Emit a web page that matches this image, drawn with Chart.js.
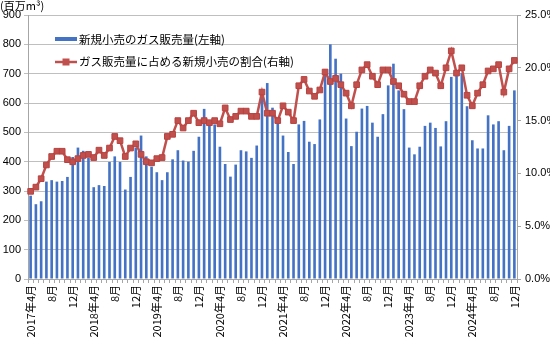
<!DOCTYPE html>
<html><head><meta charset="utf-8">
<script src="https://cdn.jsdelivr.net/npm/chart.js@4.4.1/dist/chart.umd.min.js"></script>
<style>html,body{margin:0;padding:0;background:#fff;}canvas{display:block;}</style>
</head><body>
<canvas id="c" width="550" height="337"></canvas>
<script>
// ---- data ----
const startYear = 2017, startMonth = 4, monthCount = 93;
const categories = [];
for (let i = 0; i < monthCount; i++) {
  const m = (startMonth - 1 + i) % 12 + 1;
  const y = startYear + Math.floor((startMonth - 1 + i) / 12);
  categories.push(m === 4 ? y + '年' + m + '月' : m + '月');
}
const volumeLabel = '新規小売のガス販売量(左軸)';
const shareLabel = 'ガス販売量に占める新規小売の割合(右軸)';
const unitLabel = '(百万m³)';
const volume = [284,255,265,332,337,332,334,348,416,448,437,413,
  313,320,317,399,418,399,305,348,448,489,418,383,
  364,337,364,408,439,404,400,437,485,580,532,527,
  451,392,349,390,439,435,413,455,620,668,584,535,
  489,433,392,527,539,468,460,544,700,800,751,700,
  547,453,502,581,590,533,485,562,660,734,643,579,
  448,425,451,522,533,515,452,538,689,713,702,589,
  473,445,445,558,527,538,439,522,643];
const share = [8.3,8.7,9.5,10.8,11.6,12.1,12.1,11.3,11.1,11.4,11.7,11.8,
  11.5,12.2,11.7,12.4,13.5,13.1,11.6,12.4,12.8,11.8,11.1,11.0,
  11.4,11.5,13.5,13.7,15.0,14.3,15.0,15.7,14.8,15.0,14.8,15.0,
  14.7,16.2,15.1,15.4,15.9,15.9,15.4,15.4,17.7,15.7,15.7,15.0,
  16.4,15.8,15.0,18.3,18.9,17.8,17.3,17.9,19.6,18.7,19.0,18.4,
  17.6,16.4,18.4,19.8,20.3,19.2,18.4,19.8,19.8,18.7,18.3,17.5,
  16.8,16.8,18.3,19.2,19.8,19.5,18.3,20.0,21.6,19.5,20.0,17.4,
  16.4,17.6,18.4,19.7,19.9,20.3,17.7,19.9,20.7];
const leftTicks = {min: 0, max: 900, step: 100};
const rightTicks = {min: 0, max: 25, step: 5};

const BLUE = '#4472C4', RED = '#C0504D', GRID = '#BFBFBF', AXIS = '#A6A6A6';
const JP = '"Noto Sans CJK JP", sans-serif';
const NUM = '"Liberation Sans", Arial, sans-serif';

const overlay = {
  id: 'overlay',
  afterDraw(chart) {
    const ctx = chart.ctx;
    ctx.save();
    ctx.fillStyle = '#000';
    ctx.textBaseline = 'middle';
    ctx.font = '11px ' + JP;
    ctx.fillText(unitLabel, 0, 6);
    // legend
    ctx.fillStyle = BLUE;
    ctx.fillRect(55, 37, 22, 4);
    ctx.fillStyle = '#000';
    ctx.font = '11.5px ' + JP;
    ctx.fillText(volumeLabel, 79, 40);
    ctx.strokeStyle = RED; ctx.lineWidth = 2.5;
    ctx.beginPath(); ctx.moveTo(55, 62); ctx.lineTo(77, 62); ctx.stroke();
    ctx.fillStyle = RED;
    ctx.fillRect(62.5, 58.5, 7, 7);
    ctx.fillStyle = '#000';
    ctx.fillText(shareLabel, 79, 62);
    ctx.restore();
  }
};

new Chart(document.getElementById('c'), {
  data: {
    labels: categories,
    datasets: [
      {type: 'line', label: shareLabel, data: share, yAxisID: 'y2', order: 0,
       borderColor: RED, backgroundColor: RED, borderWidth: 2.5,
       pointStyle: 'rect', pointRadius: 4, pointBorderColor: '#B8423F', pointBorderWidth: 1,
       pointBackgroundColor: RED, tension: 0},
      {type: 'bar', label: volumeLabel, data: volume, yAxisID: 'y', order: 1,
       backgroundColor: BLUE, borderWidth: 0, categoryPercentage: 1, barPercentage: 0.5}
    ]
  },
  options: {
    responsive: false, devicePixelRatio: 1, animation: false,
    layout: {padding: {top: 15, left: 0, right: 0, bottom: 0}},
    plugins: {legend: {display: false}, tooltip: {enabled: false}},
    scales: {
      x: {
        offset: true,
        grid: {offset: true, drawOnChartArea: false, drawTicks: true, tickLength: 4, color: AXIS},
        border: {color: AXIS},
        ticks: {autoSkip: false, minRotation: 90, maxRotation: 90, padding: 2, color: '#000',
          font: {family: JP, size: 11},
          callback: function(v, i) { return i % 4 === 0 ? this.getLabelForValue(v) : ''; }},
        afterFit(s) { s.height = 58; }
      },
      y: {
        position: 'left', min: leftTicks.min, max: leftTicks.max,
        grid: {color: GRID, tickLength: 4, lineWidth: 1},
        border: {color: AXIS},
        ticks: {stepSize: leftTicks.step, padding: 3, color: '#000', font: {family: NUM, size: 11}},
        afterFit(s) { s.width = 28; }
      },
      y2: {
        position: 'right', min: rightTicks.min, max: rightTicks.max,
        grid: {drawOnChartArea: false, color: AXIS, tickLength: 4},
        border: {color: AXIS},
        ticks: {stepSize: rightTicks.step, padding: 4, color: '#000', font: {family: NUM, size: 11},
          callback: v => v.toFixed(1) + '%'},
        afterFit(s) { s.width = 33; }
      }
    }
  },
  plugins: [overlay]
});
</script>
</body></html>
